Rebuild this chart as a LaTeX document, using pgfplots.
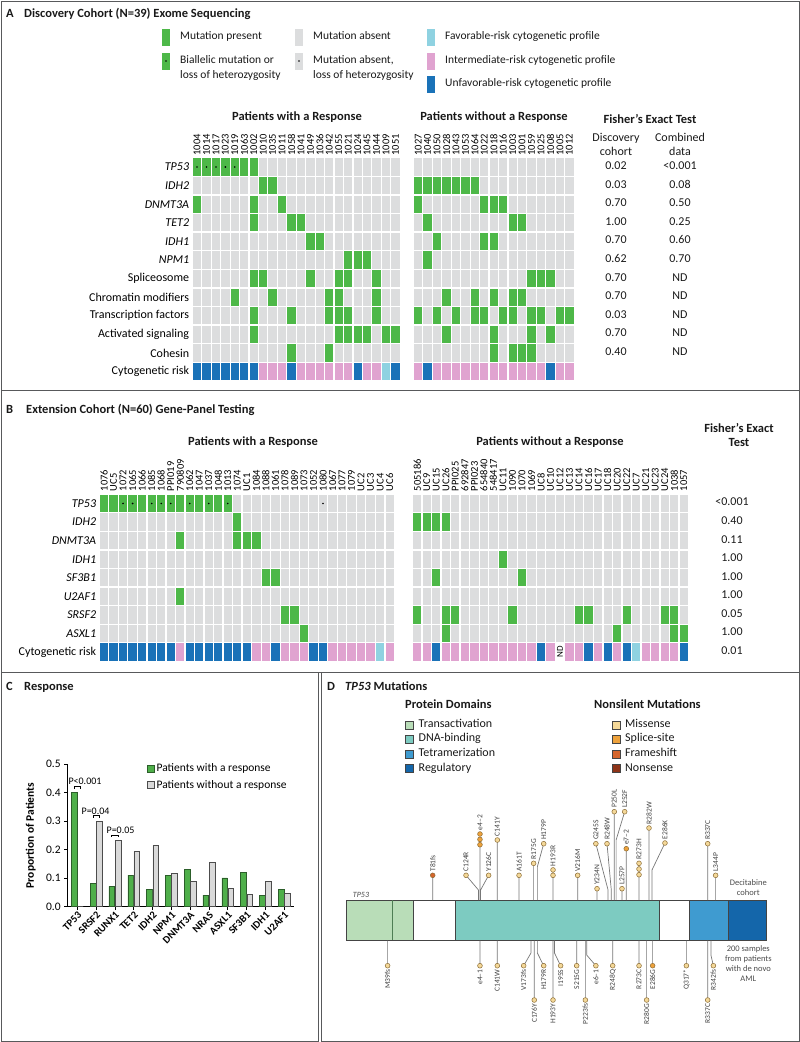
\documentclass[border=0pt]{standalone}
\usepackage{pgfplots}
\usepackage{pgfplotstable}
\pgfplotsset{compat=1.18}
\usepackage{fontspec}
\setmainfont{Carlito}

\newcommand{\fs}[1]{\fontsize{#1}{#1}\selectfont}

\definecolor{mgreen}{HTML}{4DB848}
\definecolor{mgray}{HTML}{DCDDDE}
\definecolor{rpink}{HTML}{E0A3D0}
\definecolor{rblue}{HTML}{1A72B8}
\definecolor{rlight}{HTML}{8FD2E1}
\definecolor{frame}{HTML}{58595B}
\definecolor{bargreen}{HTML}{4FAF4A}
\definecolor{bargreend}{HTML}{2C5E2A}
\definecolor{bargray}{HTML}{D9D9D9}
\definecolor{dtad}{HTML}{B9DDB8}
\definecolor{dtadline}{HTML}{4E7D54}
\definecolor{ddbd}{HTML}{7DCBC1}
\definecolor{dtet}{HTML}{3F9BD0}
\definecolor{dreg}{HTML}{1466AA}
\definecolor{dbord}{HTML}{444444}
\definecolor{mmis}{HTML}{F4D898}
\definecolor{mspl}{HTML}{EEA23C}
\definecolor{mfs}{HTML}{D5652C}
\definecolor{mns}{HTML}{8E3418}
\definecolor{mdraw}{HTML}{8A6B35}
\definecolor{stem}{HTML}{777777}

% heat-map cells
\pgfdeclareplotmark{cell}{%
  \pgfpathrectangle{\pgfpoint{-4.15pt}{-8.6pt}}{\pgfpoint{8.3pt}{17.2pt}}\pgfusepathqfill}
\pgfdeclareplotmark{celldot}{%
  \pgfpathrectangle{\pgfpoint{-4.15pt}{-8.6pt}}{\pgfpoint{8.3pt}{17.2pt}}\pgfusepathqfill
  \begin{pgfscope}\pgfsetfillcolor{black}\pgfpathcircle{\pgfpointorigin}{0.9pt}\pgfusepathqfill\end{pgfscope}}
\pgfdeclareplotmark{nocell}{}

\pgfplotsset{
  heat/.style={scale only axis, enlargelimits=false, clip=false,
    axis line style={draw=none}, tick style={draw=none}, major tick length=0pt,
    xtick=data, xticklabel pos=upper,
    xticklabel style={rotate=90, anchor=west, font=\fs{10.5}, inner xsep=2pt, inner ysep=0pt},
    yticklabel style={font=\fs{12}, inner xsep=3pt},
    scatter/classes={
      g={mark=cell, fill=mgray}, m={mark=cell, fill=mgreen},
      b={mark=celldot, fill=mgreen}, l={mark=celldot, fill=mgray},
      p={mark=cell, fill=rpink}, u={mark=cell, fill=rblue},
      f={mark=cell, fill=rlight}, n={mark=nocell}}},
  hm/.style={only marks, scatter, point meta=explicit symbolic},
}

% Panel A: one row per patient, one column per gene row
\pgfplotstableread{
x id TP ID2 DN TE ID1 NP SP CH TF AS CO CY
0 1004 b g m g g g g g g g g u
1 1014 b g g g g g g g g g g u
2 1017 b g g g g g g g g g g u
3 1023 b g g g g g g g g g g u
4 1019 b g g g g g g m g g g u
5 1063 m g g g g g g g g g g u
6 1002 m g m m g g m g m m g u
7 1010 g m g g g g m g g g g p
8 1035 g m g g g g g m g g g p
9 1011 g g m g g g g g g g g p
10 1058 g g g m g g g g m g m u
11 1041 g g g m g g g g g g g p
12 1049 g g g g m g m g g g g p
13 1036 g g g g m g g g g g g p
14 1042 g g g g g g g m m g m p
15 1055 g g g g g g m m m m g p
16 1021 g g g g g m m g m m g p
17 1024 g g g g g m g g g m g u
18 1045 g g g g g m g g g m g p
19 1044 g g g g g g m m m g g p
20 1009 g g g g g g g g g m g f
21 1051 g g g g g g g g g m g u
23.4 1027 g m m g g g g g m g g p
24.4 1040 g m g m g m g g g g g u
25.4 1050 g m g g m g g g m g g p
26.4 1028 g m g g g g g m g m g p
27.4 1043 g m g g g g g g m g g p
28.4 1053 g m g g g g g g g g g p
29.4 1064 g m g g g g g m m g g p
30.4 1022 g g m g m g g g m g g p
31.4 1018 g g m g m g g m g m m p
32.4 1016 g g m g g g g g m g g p
33.4 1003 g g g m g g g m m g m p
34.4 1001 g g g m g g g m g g m p
35.4 1059 g g g g g g m g m m m p
36.4 1025 g g g g g g m g m g g p
37.4 1008 g g g g g g m g g m g u
38.4 1005 g g g g g g g g m g g p
39.4 1012 g g g g g g g g m g g p
}\tabA

% Panel B
\pgfplotstableread{
x id TP ID2 DN ID1 SF U2 SR AS CY
0 1076 m g g g g g g g u
1 UC5 m g g g g g g g u
2 1072 b g g g g g g g u
3 1065 b g g g g g g g u
4 1066 m g g g g g g g u
5 1085 b g g g g g g g u
6 1068 b g g g g g g g u
7 PPI019 b g g g g g g g u
8 790809 m g m g g m g g p
9 1062 b g g g g g g g u
10 1047 m g g g g g g g u
11 1037 b g g g g g g g u
12 1048 m g g g g g g g u
13 1013 b g g g g g g g u
14 1074 g m m g g g g g u
15 UC1 g g m g g g g g u
16 1084 g g m g g g g g p
17 1088 g g g g m g g g p
18 1061 g g g g m g g g u
19 1078 g g g g g g m g p
20 1089 g g g g g g m g p
21 1073 g g g g g g g m p
22 1052 g g g g g g g g u
23 1080 l g g g g g g g u
24 1067 g g g g g g g g p
25 1077 g g g g g g g g p
26 1079 g g g g g g g g p
27 UC2 g g g g g g g g p
28 UC3 g g g g g g g g p
29 UC4 g g g g g g g g f
30 UC6 g g g g g g g g p
32.9 505186 g m g g g g m g p
33.9 UC9 g m g g g g g g p
34.9 UC15 g m g g m g g g u
35.9 UC26 g m g g g g m m p
36.9 PPI025 g g g g g g m g p
37.9 692847 g g g g g g g g p
38.9 PPI023 g g g g g g g g p
39.9 654840 g g g g g g g g p
40.9 548417 g g g g g g g g p
41.9 UC11 g g g m g g g g p
42.9 1090 g g g g g g m g p
43.9 1070 g g g g m g g g p
44.9 1069 g g g g g g g g p
45.9 UC8 g g g g g g g g u
46.9 UC10 g g g g g g g g p
47.9 UC12 g g g g g g g g n
48.9 UC13 g g g g g g g g p
49.9 UC14 g g g g g g m g p
50.9 UC16 g g g g g g m g u
51.9 UC17 g g g g g g g g p
52.9 UC18 g g g g g g g g u
53.9 UC20 g g g g g g g m p
54.9 UC22 g g g g g g m g u
55.9 UC7 g g g g g g g g f
56.9 UC21 g g g g g g g g p
57.9 UC23 g g g g g g g g p
58.9 UC24 g g g g g g m g p
59.9 1038 g g g g g g m m p
60.9 1057 g g g g g g g m u
}\tabB

% Panel C
\pgfplotstableread{
x gene resp nonresp
0 TP53 0.40 0.0
1 SRSF2 0.082 0.30
2 RUNX1 0.071 0.232
3 TET2 0.111 0.194
4 IDH2 0.061 0.215
5 NPM1 0.111 0.117
6 DNMT3A 0.131 0.088
7 NRAS 0.041 0.155
8 ASXL1 0.101 0.064
9 SF3B1 0.121 0.044
10 IDH1 0.041 0.088
11 U2AF1 0.062 0.046
}\tabC

\begin{document}
\begin{tikzpicture}
\useasboundingbox (0pt,0pt) rectangle (800pt,-1042pt);

\begin{scope}[x=1pt,y=-1pt, every node/.style={inner sep=0pt, text height=0.68em, text depth=0.2em, text=black!90}]
% frames
\draw[frame, line width=0.8pt] (1,1) rectangle (799,390);
\draw[frame, line width=0.8pt] (1,390) rectangle (799,672);
\draw[frame, line width=0.8pt] (1,672) rectangle (318.5,1041);
\draw[frame, line width=0.8pt] (321.5,672) rectangle (799,1041);

% ---- panel A texts
\node[anchor=west, font=\bfseries\fs{12.5}] at (6,15) {A};
\node[anchor=west, font=\bfseries\fs{12.5}] at (24,15) {Discovery Cohort (N=39) Exome Sequencing};
\fill[mgreen] (161.85,28.5) rectangle ++(8.3,17);
\fill[mgreen] (161.85,52.5) rectangle ++(8.3,17); \fill[black] (166,61) circle (0.9);
\fill[mgray] (294.85,28.5) rectangle ++(8.3,17);
\fill[mgray] (294.85,52.5) rectangle ++(8.3,17); \fill[black] (299,61) circle (0.9);
\fill[rlight] (426.85,28.5) rectangle ++(8.3,17);
\fill[rpink] (426.85,52.5) rectangle ++(8.3,17);
\fill[rblue] (426.85,75.5) rectangle ++(8.3,17);
\begin{scope}[every node/.append style={anchor=west, font=\fs{11.5}}]
\node at (180,37) {Mutation present};
\node at (180,61) {Biallelic mutation or};
\node at (180,76) {loss of heterozygosity};
\node at (313,37) {Mutation absent};
\node at (313,61) {Mutation absent,};
\node at (313,76) {loss of heterozygosity};
\node at (445,37) {Favorable-risk cytogenetic profile};
\node at (445,61) {Intermediate-risk cytogenetic profile};
\node at (445,84) {Unfavorable-risk cytogenetic profile};
\end{scope}
\node[font=\bfseries\fs{12.5}] at (297,118) {Patients with a Response};
\node[font=\bfseries\fs{12.5}] at (494,118) {Patients without a Response};
\node[font=\bfseries\fs{12.5}] at (650,121) {Fisher’s Exact Test};
\node[font=\fs{12}] at (616,139) {Discovery};
\node[font=\fs{12}] at (616,153) {cohort};
\node[font=\fs{12}] at (680,139) {Combined};
\node[font=\fs{12}] at (680,153) {data};
\foreach \y/\a/\b in {167/0.02/{<}0.001, 185.6/0.03/0.08, 204.2/0.70/0.50, 222.8/1.00/0.25,
  241.4/0.70/0.60, 260/0.62/0.70, 278.6/0.70/ND, 297.2/0.70/ND, 315.8/0.03/ND, 334.4/0.70/ND, 353/0.40/ND}{
  \node[font=\fs{12}] at (616,\y) {\a};
  \node[font=\fs{12}] at (680,\y) {\b};
}

% ---- panel B texts
\node[anchor=west, font=\bfseries\fs{12.5}] at (6,410.7) {B};
\node[anchor=west, font=\bfseries\fs{12.5}] at (26,410.7) {Extension Cohort (N=60) Gene-Panel Testing};
\node[font=\bfseries\fs{12.5}] at (253,443) {Patients with a Response};
\node[font=\bfseries\fs{12.5}] at (550,443) {Patients without a Response};
\node[font=\bfseries\fs{12.5}] at (739,430) {Fisher’s Exact};
\node[font=\bfseries\fs{12.5}] at (739,444) {Test};
\foreach \y/\a in {503.5/{<}0.001, 522.1/0.40, 540.6/0.11, 559.2/1.00, 577.8/1.00,
  596.4/1.00, 614.9/0.05, 633.5/1.00, 652.1/0.01}{
  \node[font=\fs{12}] at (732,\y) {\a};
}

% ---- panel C / D texts
\node[anchor=west, font=\bfseries\fs{12.5}] at (6,688) {C};
\node[anchor=west, font=\bfseries\fs{12.5}] at (24,688) {Response};
\node[anchor=west, font=\bfseries\fs{12.5}] at (327,688) {D};
\node[anchor=west, font=\bfseries\fs{12.5}] at (345,688) {\textit{TP53} Mutations};
\node[anchor=west, font=\bfseries\fs{12.5}] at (405,706) {Protein Domains};
\node[anchor=west, font=\bfseries\fs{12.5}] at (594,706) {Nonsilent Mutations};
\foreach \y/\c/\t in {725/dtad/Transactivation, 739.5/ddbd/DNA-binding, 754/dtet/Tetramerization, 768.7/dreg/Regulatory}{
  \filldraw[fill=\c, draw=dbord, line width=0.5pt] (405,\y-4) rectangle ++(8,8);
  \node[anchor=west, font=\fs{12}] at (418.5,\y) {\t};
}
\foreach \y/\c/\t in {725/mmis/Missense, 739.5/mspl/Splice-site, 754/mfs/Frameshift, 768.7/mns/Nonsense}{
  \filldraw[fill=\c, draw=dbord, line width=0.5pt] (612,\y-4) rectangle ++(8,8);
  \node[anchor=west, font=\fs{12}] at (625,\y) {\t};
}
\node[font=\itshape\fs{8}, text=black!70] at (361,895) {TP53};
\begin{scope}[every node/.append style={font=\fs{8.5}, text=black!70}]
\node at (748.3,883.3) {Decitabine};
\node at (748.3,893.3) {cohort};
\node at (748.3,949) {200 samples};
\node at (748.3,959) {from patients};
\node at (748.3,969) {with de novo};
\node at (748.3,979) {AML};
\end{scope}
\end{scope}

% ================= Panel A heat map
\begin{axis}[heat, at={(192.3pt,-157.7pt)}, anchor=north west,
  x=9.45pt, y=18.6pt, xmin=-0.5, xmax=39.9, ymin=-0.5, ymax=11.5,
  xticklabels from table={\tabA}{id},
  ytick={0,...,11},
  yticklabels={Cytogenetic risk, Cohesin, Activated signaling, Transcription factors,
    Chromatin modifiers, Spliceosome, \textit{NPM1}, \textit{IDH1}, \textit{TET2},
    \textit{DNMT3A}, \textit{IDH2}, \textit{TP53}}]
\addplot[hm] table[x=x, y expr=11, meta=TP] {\tabA};
\addplot[hm] table[x=x, y expr=10, meta=ID2] {\tabA};
\addplot[hm] table[x=x, y expr=9, meta=DN] {\tabA};
\addplot[hm] table[x=x, y expr=8, meta=TE] {\tabA};
\addplot[hm] table[x=x, y expr=7, meta=ID1] {\tabA};
\addplot[hm] table[x=x, y expr=6, meta=NP] {\tabA};
\addplot[hm] table[x=x, y expr=5, meta=SP] {\tabA};
\addplot[hm] table[x=x, y expr=4, meta=CH] {\tabA};
\addplot[hm] table[x=x, y expr=3, meta=TF] {\tabA};
\addplot[hm] table[x=x, y expr=2, meta=AS] {\tabA};
\addplot[hm] table[x=x, y expr=1, meta=CO] {\tabA};
\addplot[hm] table[x=x, y expr=0, meta=CY] {\tabA};
\end{axis}

% ================= Panel B heat map
\begin{axis}[heat, at={(99.3pt,-494.2pt)}, anchor=north west,
  x=9.52pt, y=18.57pt, xmin=-0.5, xmax=61.4, ymin=-0.5, ymax=8.5,
  xticklabels from table={\tabB}{id},
  xticklabel style={inner xsep=3pt},
  ytick={0,...,8},
  yticklabels={Cytogenetic risk, \textit{ASXL1}, \textit{SRSF2}, \textit{U2AF1},
    \textit{SF3B1}, \textit{IDH1}, \textit{DNMT3A}, \textit{IDH2}, \textit{TP53}}]
\addplot[hm] table[x=x, y expr=8, meta=TP] {\tabB};
\addplot[hm] table[x=x, y expr=7, meta=ID2] {\tabB};
\addplot[hm] table[x=x, y expr=6, meta=DN] {\tabB};
\addplot[hm] table[x=x, y expr=5, meta=ID1] {\tabB};
\addplot[hm] table[x=x, y expr=4, meta=SF] {\tabB};
\addplot[hm] table[x=x, y expr=3, meta=U2] {\tabB};
\addplot[hm] table[x=x, y expr=2, meta=SR] {\tabB};
\addplot[hm] table[x=x, y expr=1, meta=AS] {\tabB};
\addplot[hm] table[x=x, y expr=0, meta=CY] {\tabB};
\node[rotate=90, font=\fs{9}, inner sep=0pt] at (axis cs:47.9,0) {ND};
\end{axis}

% ================= Panel C bar chart
\begin{axis}[at={(67.7pt,-906.7pt)}, anchor=south west, scale only axis,
  x=18.8pt, y=285pt, xmin=-0.51, xmax=11.53, ymin=0, ymax=0.5,
  axis lines*=left, axis line style={line width=0.7pt},
  tick align=outside, major tick length=3.5pt, tick style={line width=0.7pt, black},
  ybar=0.6pt, bar width=5.6pt, clip=false,
  xtick={0,...,11}, xticklabels from table={\tabC}{gene},
  xticklabel style={rotate=45, anchor=north east, font=\bfseries\fs{10.5}, inner sep=0.5pt},
  ytick={0,0.1,0.2,0.3,0.4,0.5},
  yticklabel style={font=\fs{11.5}, /pgf/number format/fixed, /pgf/number format/fixed zerofill,
    /pgf/number format/precision=1, /pgf/number format/assume math mode=true},
  ylabel={Proportion of Patients},
  ylabel style={font=\bfseries\fs{11.5}, at={(axis description cs:-0.163,0.5)}, anchor=center},
  legend style={at={(axis description cs:0.35,1.02)}, anchor=north west, draw=none, fill=none,
    font=\fs{11.5}, inner sep=0pt, row sep=3pt},
  legend cell align=left,
  legend image code/.code={\draw[#1] (0pt,-3.5pt) rectangle (7pt,3.5pt);},
]
\addplot[fill=bargreen, draw=bargreend, line width=0.5pt] table[x=x, y=resp] {\tabC};
\addplot[fill=bargray, draw=black!70, line width=0.5pt] table[x=x, y=nonresp] {\tabC};
\legend{Patients with a response, Patients without a response}
\draw[line width=0.6pt] (axis cs:-0.17,0.413) -- (axis cs:-0.17,0.424) -- (axis cs:0.17,0.424) -- (axis cs:0.17,0.413);
\node[font=\fs{10}, anchor=south, inner sep=1pt] at (axis cs:0.41,0.424) {P<0.001};
\draw[line width=0.6pt] (axis cs:0.83,0.312) -- (axis cs:0.83,0.319) -- (axis cs:1.17,0.319) -- (axis cs:1.17,0.312);
\node[font=\fs{10}, anchor=south, inner sep=1pt] at (axis cs:0.97,0.319) {P=0.04};
\draw[line width=0.6pt] (axis cs:1.83,0.245) -- (axis cs:1.83,0.252) -- (axis cs:2.17,0.252) -- (axis cs:2.17,0.245);
\node[font=\fs{10}, anchor=south, inner sep=1pt] at (axis cs:2.3,0.252) {P=0.05};
\end{axis}

% ================= Panel D lollipop
\begin{axis}[at={(345.63pt,-800pt)}, anchor=north west, scale only axis, hide axis, clip=false,
  x=1.0712pt, y=1pt, y dir=reverse, xmin=0, xmax=400, ymin=800, ymax=1020]
\addplot[fill=dtad, draw=dbord, line width=0.6pt] coordinates {(1,900) (63,900) (63,940.7) (1,940.7)} -- cycle;
\addplot[fill=white, draw=dbord, line width=0.6pt] coordinates {(63,900) (102,900) (102,940.7) (63,940.7)} -- cycle;
\addplot[fill=ddbd, draw=dbord, line width=0.6pt] coordinates {(102,900) (292.8,900) (292.8,940.7) (102,940.7)} -- cycle;
\addplot[fill=white, draw=dbord, line width=0.6pt] coordinates {(292.8,900) (320.8,900) (320.8,940.7) (292.8,940.7)} -- cycle;
\addplot[fill=dtet, draw=dbord, line width=0.6pt] coordinates {(320.8,900) (357.2,900) (357.2,940.7) (320.8,940.7)} -- cycle;
\addplot[fill=dreg, draw=dbord, line width=0.6pt] coordinates {(357.2,900) (393,900) (393,940.7) (357.2,940.7)} -- cycle;
\addplot[draw=dtadline, line width=1.5pt] coordinates {(43.9,900.4) (43.9,940.3)};
% stems
\addplot[draw=stem, line width=0.7pt, unbounded coords=jump] table {
x y
81.3 900
81.3 875.3
nan nan
124 900
124 890
112.4 875.3
nan nan
125.4 900
125.4 844.7
nan nan
126 900
126 890
133.5 875.3
nan nan
141.6 900
141.6 840
nan nan
161.9 900
161.9 875.3
nan nan
175.5 900
175.5 863.3
nan nan
179 900
179 866.7
184.9 843.7
nan nan
193.6 900
193.6 870
nan nan
216.6 900
216.6 875.3
nan nan
234.7 900
234.7 888.7
nan nan
245 900
245 890
233.6 843.7
nan nan
248 900
248 890
244 843.7
nan nan
250.8 900
250.8 811.7
nan nan
252.5 900
252.5 840
260.5 811.7
nan nan
258 900
258 888.7
nan nan
262 900
262 848.7
nan nan
273.9 900
273.9 863.3
nan nan
283.2 900
283.2 828
nan nan
286 900
286 870
298.1 843
nan nan
338 900
338 843.7
nan nan
345.4 900
345.4 875.3
nan nan
39.2 940.7
39.2 965.7
nan nan
125.4 940.7
125.4 965.7
nan nan
141.6 940.7
141.6 965.7
nan nan
173 940.7
173 953
166.2 965.7
nan nan
176.1 940.7
176.1 1000
nan nan
179 940.7
179 953
184.9 965.7
nan nan
193.6 940.7
193.6 1000
nan nan
195 940.7
195 953
200.7 965.7
nan nan
215.7 940.7
215.7 965.7
nan nan
223.8 940.7
223.8 1000
nan nan
225 940.7
225 955
233.6 965.7
nan nan
249.3 940.7
249.3 965.7
nan nan
273.9 940.7
273.9 965.7
nan nan
281 940.7
281 1000
nan nan
286.6 940.7
286.6 965.7
nan nan
318.1 940.7
318.1 965.7
nan nan
338 940.7
338 1000
nan nan
341 940.7
341 955
343.3 965.7
};
% upper dots
\pgfplotsset{
  up/.style={only marks, mark=*, mark size=2.4pt, mark options={fill=#1, draw=mdraw, line width=0.5pt},
    nodes near coords, point meta=explicit symbolic,
    every node near coord/.append style={rotate=90, anchor=west, font=\fs{7.5}, inner xsep=3.6pt, inner ysep=0pt, text=black!75}},
  dn/.style={only marks, mark=*, mark size=2.4pt, mark options={fill=#1, draw=mdraw, line width=0.5pt},
    nodes near coords, point meta=explicit symbolic,
    every node near coord/.append style={rotate=90, anchor=east, font=\fs{7.5}, inner xsep=3.6pt, inner ysep=0pt, text=black!75}},
}
\addplot[up=mmis] table[x=x, y=y, meta=lab] {
x y lab
112.4 875.3 C124R
133.5 875.3 Y126C
141.6 840 C141Y
161.9 875.3 A161T
175.5 863.3 R175G
184.9 843.7 H179P
193.6 875.3 {}
193.6 869.9 H193R
216.6 875.3 V216M
234.7 888.7 Y234N
233.6 843.7 G245S
244.0 843.7 R248W
250.8 811.7 P250L
260.5 811.7 L252F
258.0 888.7 L257P
273.9 874.7 {}
273.9 869.0 {}
273.9 863.3 R273H
283.2 828 R282W
298.1 843 E286K
338.0 843.7 R337C
345.4 875.3 L344P
};
\addplot[up=mspl] table[x=x, y=y, meta=lab] {
x y lab
125.4 844.7 {}
125.4 839.4 {}
125.4 834 e4–2
262.0 848.7 e7–2
};
\addplot[up=mfs] table[x=x, y=y, meta=lab] {
x y lab
81.3 875.3 T81fs
};
\addplot[dn=mmis] table[x=x, y=y, meta=lab] {
x y lab
39.2 965.7 M39fs
125.4 965.7 e4–1
141.6 965.7 C141W
166.2 965.7 V173fs
176.1 1000 C176Y
184.9 965.7 H179R
193.6 1000 H193Y
200.7 965.7 I195S
215.7 965.7 S215G
223.8 1000 P223fs
233.6 965.7 e6–1
249.3 965.7 R248Q
273.9 965.7 R273C
281.0 1000 R280G
318.1 965.7 Q317*
338.0 1000 R337C
343.3 965.7 R342fs
};
\addplot[dn=mspl] table[x=x, y=y, meta=lab] {
x y lab
286.6 965.7 E286G
};
\end{axis}
\end{tikzpicture}
\end{document}
